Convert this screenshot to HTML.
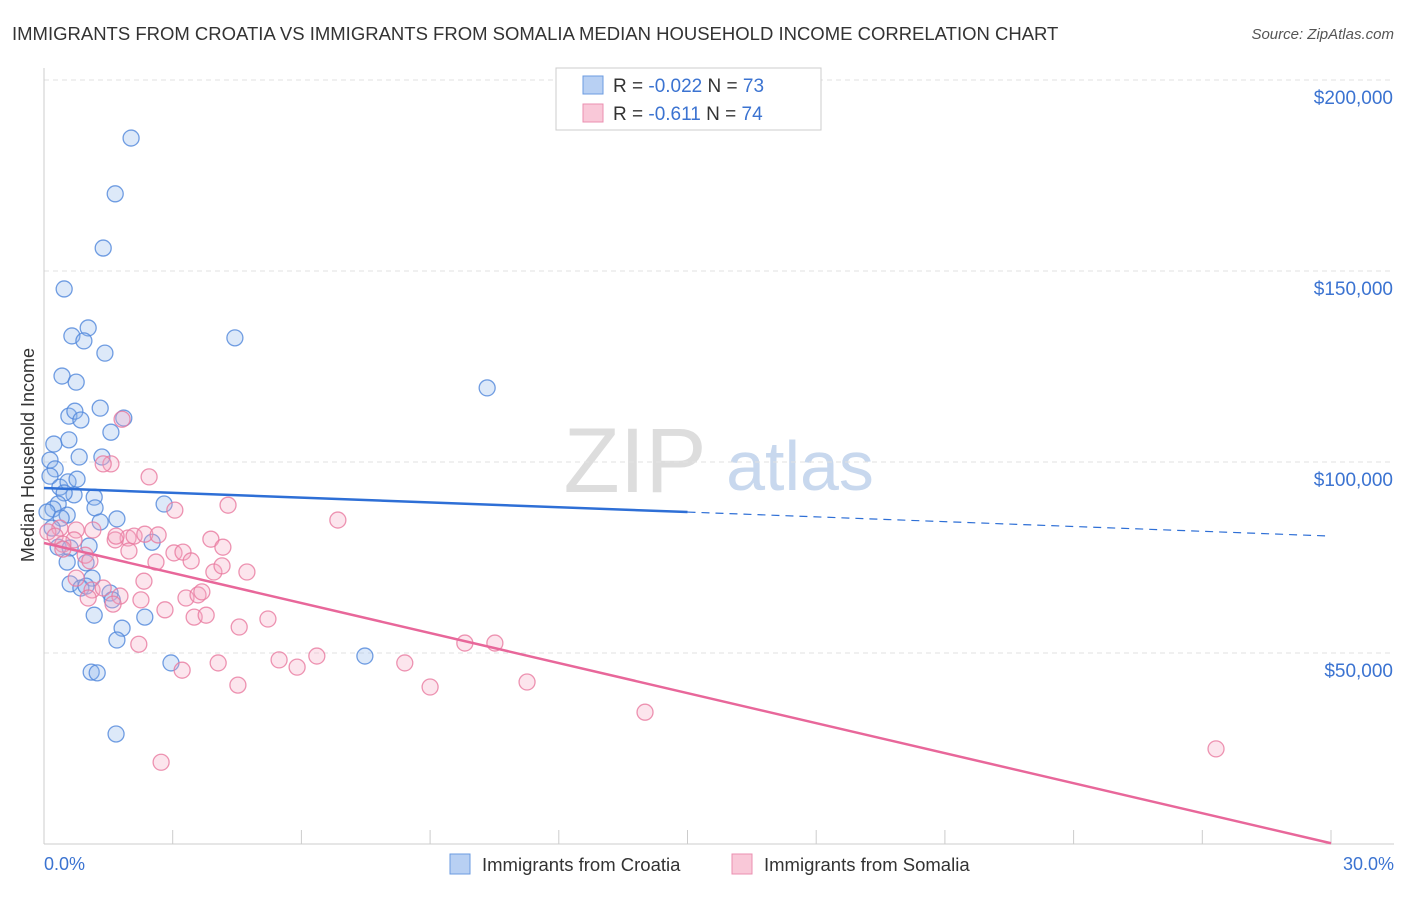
<!DOCTYPE html>
<html><head><meta charset="utf-8"><style>
body{margin:0;background:#fff;font-family:"Liberation Sans",sans-serif;}
svg text{font-family:"Liberation Sans",sans-serif;}
</style></head><body>
<svg id="chart" width="1406" height="892">
<text x="12" y="40" font-size="18.5" fill="#333">IMMIGRANTS FROM CROATIA VS IMMIGRANTS FROM SOMALIA MEDIAN HOUSEHOLD INCOME CORRELATION CHART</text>
<text x="1394" y="39" font-size="15" fill="#555" font-style="italic" text-anchor="end">Source: ZipAtlas.com</text>
<text x="635" y="492" font-size="92" fill="#ddd" font-family="Liberation Serif" text-anchor="middle">ZIP</text>
<text x="800" y="490" font-size="70" fill="#c8d8ee" text-anchor="middle">atlas</text>
<g id="grid"></g><g id="axes"></g><g id="pts"></g><g id="trend"></g>
<text transform="translate(34,455) rotate(-90)" font-size="18" fill="#333" text-anchor="middle">Median Household Income</text>
<text x="44" y="870" font-size="18" fill="#3b73d1">0.0%</text>
<text x="1394" y="870" font-size="18" fill="#3b73d1" text-anchor="end">30.0%</text>
<g>
<rect x="556" y="68" width="265" height="62" fill="#fff" stroke="#ccc"/>
<rect x="583" y="76" width="20" height="18" fill="#b8d0f3" stroke="#6b9be0"/>
<rect x="583" y="104" width="20" height="18" fill="#f9c8d8" stroke="#eb8fb0"/>
<text x="613" y="92" font-size="19" fill="#333">R = <tspan fill="#3b73d1">-0.022</tspan>   N = <tspan fill="#3b73d1">73</tspan></text>
<text x="613" y="120" font-size="19" fill="#333">R =  <tspan fill="#3b73d1"> -0.611</tspan>   N = <tspan fill="#3b73d1">74</tspan></text>
</g>
<g>
<rect x="450" y="854" width="20" height="20" fill="#b8d0f3" stroke="#6b9be0"/>
<text x="482" y="871" font-size="18.5" fill="#333">Immigrants from Croatia</text>
<rect x="732" y="854" width="20" height="20" fill="#f9c8d8" stroke="#eb8fb0"/>
<text x="764" y="871" font-size="18.5" fill="#333">Immigrants from Somalia</text>
</g>
</svg>
<script>
const yTicks=[50,100,150,200];
const yTickLabels=["$50,000","$100,000","$150,000","$200,000"];
const xTicks=[0,3,6,9,12,15,18,21,24,27,30];
const croatiaX=[2.03,1.66,1.38,0.47,4.45,10.33,0.65,1.03,0.93,1.42,0.42,0.75,0.58,0.72,0.86,1.31,1.86,1.56,0.23,0.58,1.35,0.82,0.14,0.26,0.14,0.37,0.56,0.77,0.70,1.17,0.47,0.33,0.21,0.07,1.19,0.54,0.40,1.31,1.70,2.80,2.52,1.05,0.19,0.33,0.61,0.54,0.98,1.12,0.61,0.86,1.54,1.59,0.98,2.35,1.17,1.82,1.70,2.96,1.10,1.24,1.68,7.48];
const croatiaY=[184.8,170.2,156.0,145.3,132.5,119.4,133.0,135.1,131.7,128.5,122.5,120.9,112.0,113.3,111.0,114.1,111.5,107.8,104.7,105.8,101.3,101.3,100.5,98.2,96.3,93.4,94.8,95.5,91.4,90.8,91.9,89.0,87.7,86.9,88.0,86.1,85.3,84.3,85.1,89.0,79.0,78.0,82.7,77.7,77.5,73.8,73.6,69.6,68.1,67.0,65.7,63.9,67.5,59.4,59.9,56.5,53.4,47.4,45.0,44.8,28.8,49.2];
const somaliaX=[1.82,1.56,2.45,4.29,3.05,6.85,0.37,0.75,1.14,0.09,0.26,0.70,0.44,1.96,1.66,2.10,2.35,2.66,3.89,4.17,1.98,0.44,0.96,1.07,3.03,3.24,2.61,3.43,4.73,3.96,4.15,2.33,0.75,1.12,1.38,1.77,1.03,1.61,2.26,3.31,3.59,3.68,2.82,3.50,3.78,4.55,5.22,2.21,3.22,4.06,4.52,5.48,5.90,6.36,8.41,9.00,9.81,10.51,11.26,14.01,27.32,2.73,1.38,1.68];
const somaliaY=[111.2,99.5,96.1,88.7,87.4,84.8,82.7,82.2,82.2,81.7,80.6,79.6,78.5,80.1,79.6,80.6,81.1,80.9,79.8,77.7,76.7,77.2,75.6,74.1,76.2,76.4,73.8,74.1,71.2,71.2,72.8,68.8,69.6,66.5,67.0,64.9,64.4,62.8,63.9,64.4,65.2,66.0,61.3,59.4,59.9,56.8,58.9,52.3,45.5,47.4,41.6,48.2,46.3,49.2,47.4,41.1,52.6,52.6,42.4,34.5,24.9,21.4,99.5,80.6];
const croatiaTrend=[93.2,80.6];
const somaliaTrend=[78.8,0.2];
const NS="http://www.w3.org/2000/svg";
const X=v=>44+v/30*1287;
const Y=v=>80+(200-v)/50*191;
function mk(tag,attrs,parent){const e=document.createElementNS(NS,tag);for(const k in attrs)e.setAttribute(k,attrs[k]);document.getElementById(parent).appendChild(e);return e;}
yTicks.forEach((t,i)=>{
 const l=mk('line',{x1:44,x2:1394,y1:Y(t),y2:Y(t),stroke:'#e2e2e2','stroke-dasharray':'5,4'},'grid');
 
 
 const tx=mk('text',{x:1393,y:Y(t)+24,'font-size':19,fill:'#3b73d1','text-anchor':'end'},'grid');
 tx.textContent=yTickLabels[i];
 
 
});
const ax=mk('line',{x1:44,x2:1394,y1:844,y2:844,stroke:'#ccc'},'axes');


const ay=mk('line',{x1:44,x2:44,y1:68,y2:844,stroke:'#ccc'},'axes');


xTicks.forEach(t=>{
 const l=mk('line',{x1:X(t),x2:X(t),y1:830,y2:844,stroke:'#ccc'},'axes');
 
 
});
function pts(xs,ys,fill,stroke,name){xs.forEach((x,i)=>{
 const c=mk('circle',{cx:X(x),cy:Y(ys[i]),r:8,fill:fill,'fill-opacity':0.3,stroke:stroke,'stroke-width':1.3,'stroke-opacity':0.8},'pts');
 
 
});}
pts(croatiaX,croatiaY,'#8fb5ec','#4f86db','croatia-point');
pts(somaliaX,somaliaY,'#f5aac4','#e8799f','somalia-point');
const tb=v=>croatiaTrend[0]+(croatiaTrend[1]-croatiaTrend[0])*v/30;
const l1=mk('line',{x1:X(0),y1:Y(tb(0)),x2:X(15),y2:Y(tb(15)),stroke:'#2e6fd6','stroke-width':2.5},'trend');


const l2=mk('line',{x1:X(15),y1:Y(tb(15)),x2:X(30),y2:Y(tb(30)),stroke:'#2e6fd6','stroke-width':1.2,'stroke-dasharray':'8,6'},'trend');


const l3=mk('line',{x1:X(0),y1:Y(somaliaTrend[0]),x2:X(30),y2:Y(somaliaTrend[1]),stroke:'#e8679a','stroke-width':2.5},'trend');


</script>
</body></html>
